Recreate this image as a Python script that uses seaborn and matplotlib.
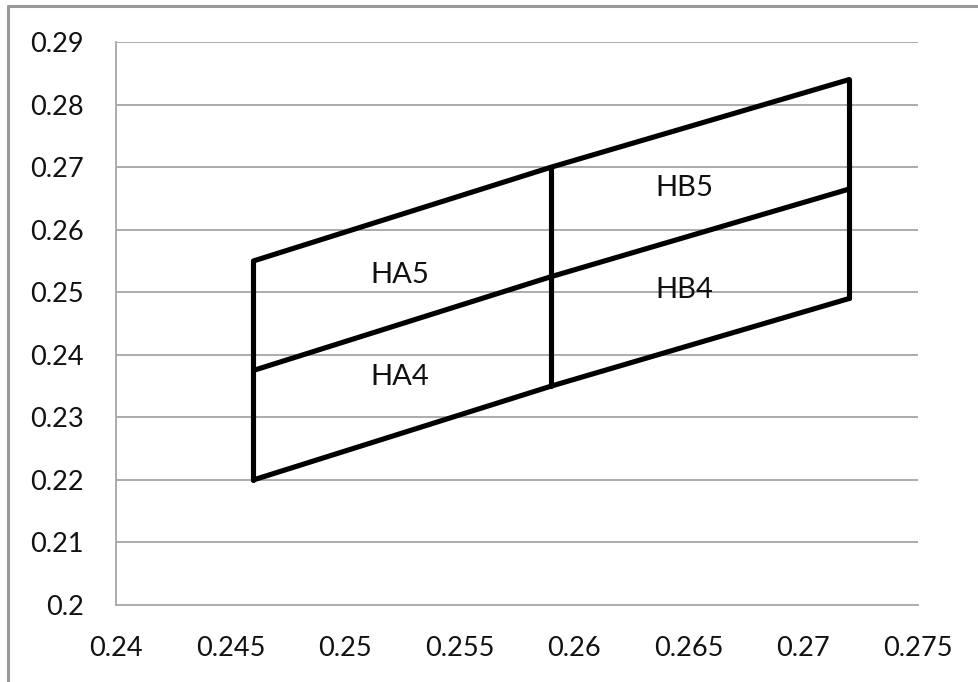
import pandas as pd
import matplotlib
matplotlib.use("Agg")
import matplotlib.pyplot as plt
from matplotlib.lines import Line2D
import seaborn as sns

# --- data ---
x_cols = [0.246, 0.259, 0.272]
top_line = [0.255, 0.270, 0.284]
mid_line = [0.2375, 0.2525, 0.2665]
bot_line = [0.220, 0.235, 0.249]

label_text = ["HA5", "HA4", "HB5", "HB4"]
label_x = [0.2524, 0.2524, 0.2648, 0.2648]
label_y = [0.2527, 0.2364, 0.2667, 0.2503]

x_ticks = [0.24, 0.245, 0.25, 0.255, 0.26, 0.265, 0.27, 0.275]
x_tick_labels = ["0.24", "0.245", "0.25", "0.255", "0.26", "0.265", "0.27", "0.275"]
y_ticks = [0.2, 0.21, 0.22, 0.23, 0.24, 0.25, 0.26, 0.27, 0.28, 0.29]
y_tick_labels = ["0.2", "0.21", "0.22", "0.23", "0.24", "0.25", "0.26", "0.27", "0.28", "0.29"]

# build long table: three sloped lines + three verticals
rows = []
for name, ys in [("top", top_line), ("mid", mid_line), ("bot", bot_line)]:
    for x, y in zip(x_cols, ys):
        rows.append({"seg": name, "x": x, "y": y})
for i, x in enumerate(x_cols):
    rows.append({"seg": f"v{i}", "x": x, "y": bot_line[i]})
    rows.append({"seg": f"v{i}", "x": x, "y": top_line[i]})
df = pd.DataFrame(rows)

sns.set_theme(style="white")
plt.rcParams["font.family"] = ["Lato", "DejaVu Sans"]

fig = plt.figure(figsize=(9.79, 6.82), dpi=100)
ax = fig.add_axes([116 / 979, 1 - 605 / 682, 802 / 979, 563 / 682])

grid_col = "#a6a6a6"
for yv in y_ticks[1:]:
    ax.axhline(yv, color=grid_col, lw=1.3, zorder=0)

sns.lineplot(data=df, x="x", y="y", units="seg", estimator=None, sort=False,
             color="black", lw=3.7, ax=ax, solid_capstyle="round",
             solid_joinstyle="miter", legend=False)

for t, x, y in zip(label_text, label_x, label_y):
    ax.text(x, y, t, ha="center", va="center", fontsize=21, color="#111111")

ax.set_xlim(0.24, 0.275)
ax.set_ylim(0.2, 0.29)
ax.set_xticks(x_ticks)
ax.set_xticklabels(x_tick_labels)
ax.set_yticks(y_ticks)
ax.set_yticklabels(y_tick_labels)
ax.set_xlabel("")
ax.set_ylabel("")

for side in ["top", "right"]:
    ax.spines[side].set_visible(False)
for side in ["left", "bottom"]:
    ax.spines[side].set_color(grid_col)
    ax.spines[side].set_linewidth(1.3)

ax.tick_params(axis="both", which="major", direction="out", length=9, width=1.3,
               color=grid_col, labelsize=19.5, labelcolor="#111111")
ax.tick_params(axis="x", pad=13)
ax.tick_params(axis="y", pad=14)

# outer chart border (only top and left visible in the crop)
fig.add_artist(Line2D([8.5 / 979, 8.5 / 979], [-0.1, 1 - 5.5 / 682],
                      transform=fig.transFigure, color="#999999", lw=2.2))
fig.add_artist(Line2D([8.5 / 979, 1.1], [1 - 5.5 / 682, 1 - 5.5 / 682],
                      transform=fig.transFigure, color="#999999", lw=2.2))

fig.savefig("out.png", dpi=100, facecolor="white")
